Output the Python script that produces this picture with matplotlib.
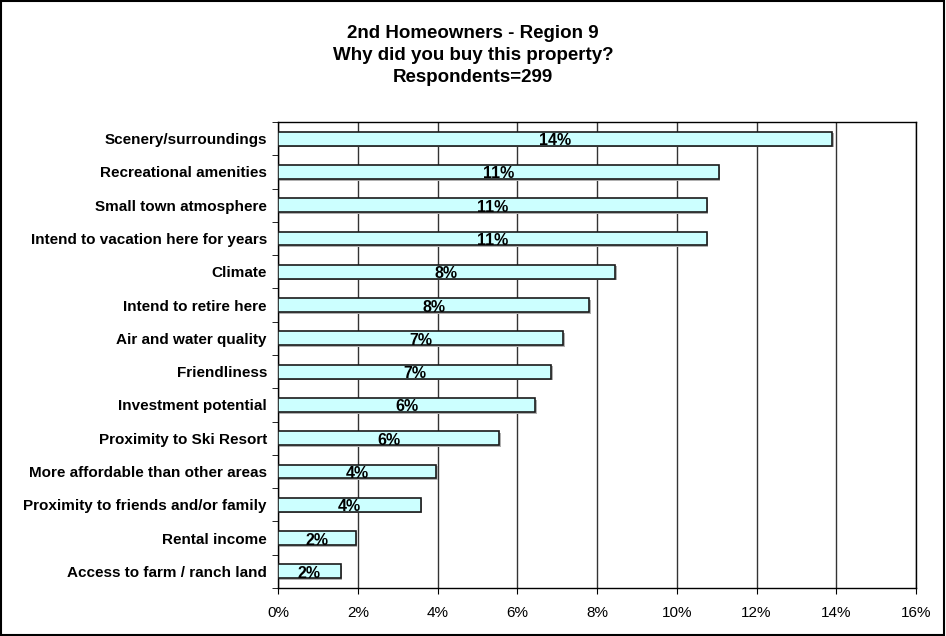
import matplotlib
matplotlib.use("Agg")
import matplotlib.pyplot as plt
from matplotlib.patches import Rectangle
from matplotlib.ticker import FuncFormatter, FixedLocator

plt.rcParams['font.family'] = ['Liberation Sans', 'DejaVu Sans']

reasons = [
    "Scenery/surroundings",
    "Recreational amenities",
    "Small town atmosphere",
    "Intend to vacation here for years",
    "Climate",
    "Intend to retire here",
    "Air and water quality",
    "Friendliness",
    "Investment potential",
    "Proximity to Ski Resort",
    "More affordable than other areas",
    "Proximity to friends and/or family",
    "Rental income",
    "Access to farm / ranch land",
]
shares = [13.9, 11.05, 10.75, 10.75, 8.45, 7.8, 7.15, 6.85, 6.45, 5.55, 3.97, 3.58, 1.95, 1.57]

fig = plt.figure(figsize=(9.46, 6.36), dpi=100)
ax = fig.add_axes([278 / 946, 1 - 588 / 636, (916 - 278) / 946, (588 - 122) / 636])

ypos = list(range(len(reasons)))
# light grey drop shadow, then the bars
ax.barh([y + 0.05 for y in ypos], [v + 0.04 for v in shares], height=0.42,
        color="#b0b0b0", linewidth=0, zorder=2)
ax.barh(ypos, shares, height=0.42, color="#CCFFFF", edgecolor="#1a1a1a", linewidth=1.2, zorder=3)

for y, v in zip(ypos, shares):
    ax.text(v / 2, y + 0.06, "%d%%" % round(v), ha="center", va="center",
            fontsize=11.5, fontweight="bold", zorder=4)

ax.set_xlim(0, 16)
ax.set_ylim(len(reasons) - 0.5, -0.5)
ax.set_xticks(range(0, 17, 2))
ax.xaxis.set_major_formatter(FuncFormatter(lambda x, p: "%d%%" % x))
ax.tick_params(axis="x", labelsize=11, length=4, pad=9, color="black")

ax.set_yticks(ypos)
ax.set_yticklabels(reasons, fontsize=11, fontweight="bold")
ax.tick_params(axis="y", which="major", length=0, pad=8)
ax.yaxis.set_minor_locator(FixedLocator([i + 0.5 for i in range(-1, len(reasons))]))
ax.tick_params(axis="y", which="minor", length=4, color="black")

ax.grid(axis="x", color="#333333", linewidth=1, zorder=0)
for s in ax.spines.values():
    s.set_color("black")
    s.set_linewidth(1)

fig.text(0.5, 1 - 33 / 636, "2nd Homeowners - Region 9", ha="center", va="center",
         fontsize=13.5, fontweight="bold")
fig.text(0.5, 1 - 56 / 636, "Why did you buy this property?", ha="center", va="center",
         fontsize=13.5, fontweight="bold")
fig.text(0.5, 1 - 78 / 636, "Respondents=299", ha="center", va="center",
         fontsize=13.5, fontweight="bold")

fig.patches.append(Rectangle((0.001, 0.001), 0.997, 0.997, transform=fig.transFigure,
                             fill=False, edgecolor="black", linewidth=1.5))

fig.savefig("out.png", dpi=100)
plt.close(fig)
